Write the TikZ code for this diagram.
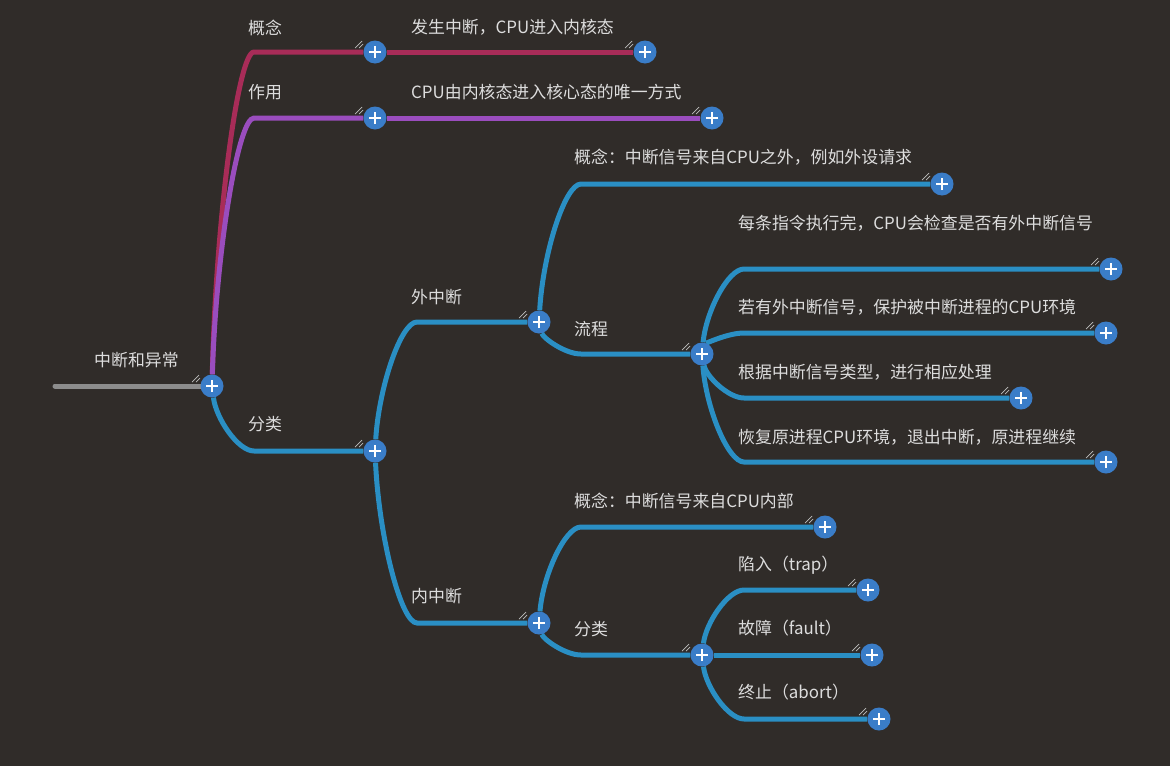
\documentclass[tikz,border=0pt]{standalone}
\usepackage{fontspec}
\newfontfamily\cjk{Noto Sans CJK SC}
\usetikzlibrary{calc}
\pgfdeclarelayer{back}
\pgfsetlayers{back,main}
\definecolor{bgc}{HTML}{302C29}
\definecolor{txt}{HTML}{DDDDDD}
\definecolor{crim}{HTML}{A82C58}
\definecolor{purp}{HTML}{9A4DBE}
\definecolor{blu}{HTML}{2A8FC4}
\definecolor{knobc}{HTML}{3A7DC8}
\definecolor{rootg}{HTML}{8C8C8C}
\tikzset{
  knob/.style={circle,fill=knobc,minimum size=23pt,inner sep=0pt,
    path picture={\draw[white,line width=2.6pt]
      ([xshift=-6pt]path picture bounding box.center) -- ([xshift=6pt]path picture bounding box.center)
      ([yshift=-6pt]path picture bounding box.center) -- ([yshift=6pt]path picture bounding box.center);}},
  hatch/.style={draw=white!75!black,line width=0.7pt},
  lbl/.style={anchor=west,inner sep=0pt,text=txt,font=\cjk\fontsize{16.9}{18}\selectfont},
  edge/.style={line width=5pt},
  branch/.style={to path={let \p1=(\tikztostart),\p2=(\tikztotarget) in
     .. controls ({\x1+4pt},{0.5*\y1+0.5*\y2}) and ({\x1+26pt},\y2) .. ({\x1+42pt},\y2) -- (\tikztotarget)}}
}
\newcommand\knobat[2]{\node[knob] (#1) at (#2) {};
  \draw[hatch,shift={(#1)}] (-20,-4) -- (-13,-11) (-16,-4) -- (-12,-8);}
\begin{document}
\begin{tikzpicture}[x=1pt,y=-1pt]
\useasboundingbox (0,0) rectangle (1170,766);
\begin{pgfonlayer}{back}
\fill[bgc] (0,0) rectangle (1170,766);
\end{pgfonlayer}
% knobs
\coordinate (rs) at (55,386);
\knobat{r}{212,386}
\knobat{c1}{375,52}
\knobat{c2}{375,118}
\knobat{c3}{375,451}
\knobat{l1}{645,52}
\knobat{l2}{712,118}
\knobat{w}{539,322}
\knobat{n}{539,623}
\knobat{wg}{942,184}
\knobat{wl}{702,354}
\knobat{f1}{1111,269}
\knobat{f2}{1106,333}
\knobat{f3}{1021,398}
\knobat{f4}{1106,462}
\knobat{ng}{825,527}
\knobat{nf}{702,655}
\knobat{t1}{868,590}
\knobat{t2}{872,655}
\knobat{t3}{879,719}
% edges
\begin{pgfonlayer}{back}
\draw[edge,rootg,line cap=round] (rs) -- (r);
\draw[edge,crim] (r) to[branch] (c1);
\draw[edge,crim] (c1) -- (l1);
\draw[edge,purp] (r) to[branch] (c2);
\draw[edge,purp] (c2) -- (l2);
\draw[edge,blu] (r) to[branch] (c3);
\draw[edge,blu] (c3) to[branch] (w);
\draw[edge,blu] (c3) to[branch] (n);
\draw[edge,blu] (w) to[branch] (wg);
\draw[edge,blu] (w) to[branch] (wl);
\draw[edge,blu] (wl) to[branch] (f1);
\draw[edge,blu] (wl) to[branch] (f2);
\draw[edge,blu] (wl) to[branch] (f3);
\draw[edge,blu] (wl) to[branch] (f4);
\draw[edge,blu] (n) to[branch] (ng);
\draw[edge,blu] (n) to[branch] (nf);
\draw[edge,blu] (nf) to[branch] (t1);
\draw[edge,blu] (nf) -- (t2);
\draw[edge,blu] (nf) to[branch] (t3);
\end{pgfonlayer}
% labels
\node[lbl] (tr) at (94,360) {中断和异常};
\node[lbl] (tc1) at (248,28) {概念};
\node[lbl] (tl1) at (411,27) {发生中断，CPU进入内核态};
\node[lbl] (tc2) at (248,92) {作用};
\node[lbl] (tl2) at (411,92) {CPU由内核态进入核心态的唯一方式};
\node[lbl] (tc3) at (248,424) {分类};
\node[lbl] (tw) at (411,297) {外中断};
\node[lbl] (tn) at (411,596) {内中断};
\node[lbl] (twg) at (574,157) {概念：中断信号来自CPU之外，例如外设请求};
\node[lbl] (twl) at (574,329) {流程};
\node[lbl] (tf1) at (738,223) {每条指令执行完，CPU会检查是否有外中断信号};
\node[lbl] (tf2) at (738,307) {若有外中断信号，保护被中断进程的CPU环境};
\node[lbl] (tf3) at (738,372) {根据中断信号类型，进行相应处理};
\node[lbl] (tf4) at (738,437) {恢复原进程CPU环境，退出中断，原进程继续};
\node[lbl] (tng) at (574,501) {概念：中断信号来自CPU内部};
\node[lbl] (tnf) at (574,629) {分类};
\node[lbl] (tt1) at (738,565) {陷入（trap）};
\node[lbl] (tt2) at (738,628) {故障（fault）};
\node[lbl] (tt3) at (738,692) {终止（abort）};
\end{tikzpicture}
\end{document}
